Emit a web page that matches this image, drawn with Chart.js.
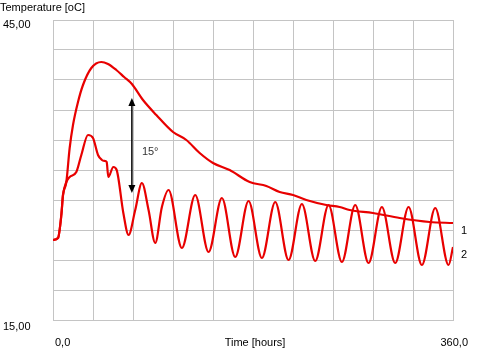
<!DOCTYPE html>
<html>
<head>
<meta charset="utf-8">
<script src="https://cdn.jsdelivr.net/npm/chart.js@4/dist/chart.umd.min.js"></script>
<style>
  html, body { margin: 0; padding: 0; background: #ffffff; }
  #wrap { width: 501px; height: 357px; }
</style>
</head>
<body>
<div id="wrap"><canvas id="c" width="501" height="357"></canvas></div>
<script>
// ---- data (time in hours, temperature in °C) ----
const series1Hours = [0, 4.5, 7.5, 9, 12, 15, 18, 22.5, 27, 34.5, 43.5, 49.5, 57, 64, 71, 81, 93, 108, 120, 132, 144, 159, 177, 192, 204, 216, 228, 246, 258, 267, 288, 312, 339, 360];
const series1Temp  = [23.0, 23.2, 25.5, 27.5, 28.8, 32.2, 34.5, 36.8, 38.5, 40.2, 40.8, 40.6, 40.0, 39.3, 38.6, 37.0, 35.5, 33.8, 33.0, 31.7, 30.7, 30.0, 28.8, 28.4, 27.8, 27.5, 27.0, 26.5, 26.3, 26.0, 25.7, 25.2, 24.8, 24.7];

const series2Hours = [0, 4.5, 7.5, 9, 12, 15, 21, 25.5, 31.5, 36, 40.5, 44, 47, 48.3, 49.8, 54.3, 57.3, 63.3, 68, 74, 80, 86, 92, 98, 104, 116, 128, 140, 152, 164, 176, 188, 200, 212, 224, 236, 248, 260, 272, 284, 296, 308, 320, 332, 344, 356, 360];
const series2Temp  = [23.0, 23.2, 25.5, 27.5, 28.8, 29.3, 29.8, 31.5, 33.5, 33.2, 31.5, 31.0, 30.9, 30.8, 29.3, 30.3, 30.0, 25.7, 23.5, 26.0, 28.7, 26.0, 22.7, 26.3, 28.0, 22.2, 27.5, 21.8, 27.2, 21.3, 26.9, 21.2, 26.8, 21.0, 26.6, 20.9, 26.5, 20.8, 26.5, 20.7, 26.3, 20.7, 26.3, 20.5, 26.2, 20.5, 22.3];

const seriesNames = ['1', '2'];
const yTickLabels = ['45,00', '15,00'];   // max, min
const xTickLabels = ['0,0', '360,0'];     // min, max
const yAxisTitle = 'Temperature [oC]';
const xAxisTitle = 'Time [hours]';
// annotation: double-headed arrow (hours, temp from, temp to) and its text
const arrowHour = 71;
const arrowTemps = [37.2, 27.7];
const arrowText = '15°';

const yMin = 15, yMax = 45, yStep = 3;
const xMin = 0, xMax = 360, xStep = 36;

const toPoints = (xs, ys) => xs.map((x, i) => ({ x: x, y: ys[i] }));

const FONT = '11px "Liberation Sans", Arial, sans-serif';
const RED = '#e80000';

const labelsPlugin = {
  id: 'labelsPlugin',
  afterDraw(chart) {
    const ctx = chart.ctx;
    const xs = chart.scales.x, ys = chart.scales.y;
    ctx.save();
    ctx.font = FONT;
    ctx.fillStyle = '#000';
    ctx.textBaseline = 'middle';
    ctx.textAlign = 'left';
    // axis title top-left
    ctx.fillText(yAxisTitle, 0, 8);
    // y labels
    ctx.fillText(yTickLabels[0], 3, ys.getPixelForValue(yMax) + 5);
    ctx.fillText(yTickLabels[1], 3, ys.getPixelForValue(yMin) + 7);
    // x labels
    const xl = ys.getPixelForValue(yMin) + 23;
    ctx.fillText(xTickLabels[0], xs.getPixelForValue(xMin) + 2, xl);
    ctx.textAlign = 'right';
    ctx.fillText(xTickLabels[1], xs.getPixelForValue(xMax) + 15, xl);
    ctx.textAlign = 'center';
    ctx.fillText(xAxisTitle, (xs.left + xs.right) / 2 + 2, xl);
    // series end labels
    ctx.textAlign = 'left';
    chart.data.datasets.forEach((ds, i) => {
      const meta = chart.getDatasetMeta(i);
      const last = meta.data[meta.data.length - 1];
      ctx.fillText(seriesNames[i], last.x + 8, last.y + 8);
    });
    // arrow annotation
    const ax = xs.getPixelForValue(arrowHour);
    const y1 = ys.getPixelForValue(arrowTemps[0]);
    const y2 = ys.getPixelForValue(arrowTemps[1]);
    ctx.strokeStyle = '#000';
    ctx.lineWidth = 1.5;
    ctx.beginPath();
    ctx.moveTo(ax, y1 + 5);
    ctx.lineTo(ax, y2 - 5);
    ctx.stroke();
    ctx.fillStyle = '#000';
    ctx.beginPath();
    ctx.moveTo(ax, y1);
    ctx.lineTo(ax - 3.5, y1 + 8);
    ctx.lineTo(ax + 3.5, y1 + 8);
    ctx.closePath();
    ctx.fill();
    ctx.beginPath();
    ctx.moveTo(ax, y2);
    ctx.lineTo(ax - 3.5, y2 - 8);
    ctx.lineTo(ax + 3.5, y2 - 8);
    ctx.closePath();
    ctx.fill();
    ctx.fillStyle = '#333';
    ctx.textAlign = 'left';
    ctx.fillText(arrowText, ax + 10, (y1 + y2) / 2 + 6);
    ctx.restore();
  }
};

new Chart(document.getElementById('c'), {
  type: 'line',
  data: {
    datasets: [
      { label: seriesNames[0], data: toPoints(series1Hours, series1Temp), borderColor: RED, borderWidth: 2.2, pointRadius: 0, cubicInterpolationMode: 'monotone', fill: false },
      { label: seriesNames[1], data: toPoints(series2Hours, series2Temp), borderColor: RED, borderWidth: 2.2, pointRadius: 0, cubicInterpolationMode: 'monotone', fill: false }
    ]
  },
  options: {
    responsive: false,
    animation: false,
    layout: { padding: { left: 53, right: 48, top: 20, bottom: 37 } },
    plugins: { legend: { display: false }, tooltip: { enabled: false } },
    scales: {
      x: {
        type: 'linear', min: xMin, max: xMax,
        ticks: { display: false, stepSize: xStep },
        grid: { color: '#c4c4c4', lineWidth: 1, drawTicks: false },
        border: { display: true, color: '#c4c4c4' }
      },
      y: {
        type: 'linear', min: yMin, max: yMax,
        ticks: { display: false, stepSize: yStep },
        grid: { color: '#c4c4c4', lineWidth: 1, drawTicks: false },
        border: { display: true, color: '#c4c4c4' }
      }
    }
  },
  plugins: [labelsPlugin]
});
</script>
</body>
</html>
